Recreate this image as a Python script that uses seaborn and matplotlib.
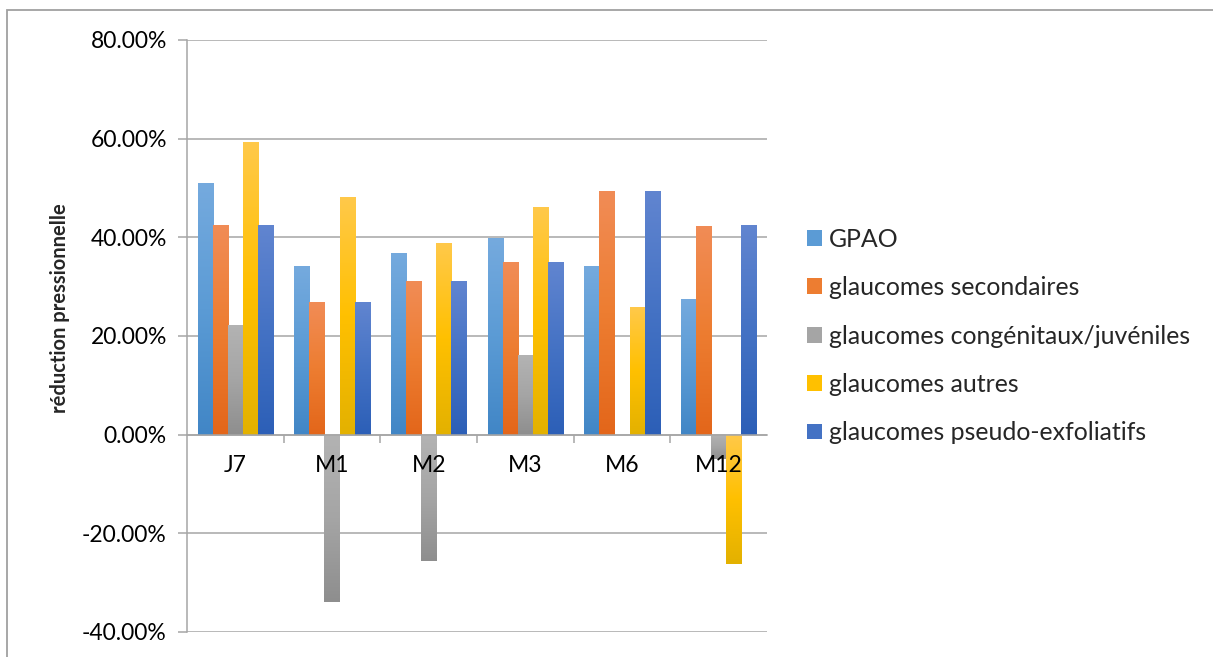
import numpy as np
import pandas as pd
import matplotlib
matplotlib.use("Agg")
import matplotlib.pyplot as plt
from matplotlib.colors import LinearSegmentedColormap
from matplotlib.patches import Patch, Rectangle
from matplotlib.ticker import FixedLocator, FuncFormatter
import seaborn as sns

# Periods of follow-up and the glaucoma types compared
periodes = ["J7", "M1", "M2", "M3", "M6", "M12"]
types = [
    "GPAO",
    "glaucomes secondaires",
    "glaucomes congénitaux/juvéniles",
    "glaucomes autres",
    "glaucomes pseudo-exfoliatifs",
]

# Mean pressure reduction (fraction) per period, one list per type
gpao = [0.510, 0.342, 0.369, 0.398, 0.342, 0.276]
secondaires = [0.425, 0.268, 0.312, 0.350, 0.494, 0.423]
congenitaux = [0.223, -0.339, -0.256, 0.162, 0.0, -0.050]
autres = [0.593, 0.482, 0.389, 0.462, 0.259, -0.262]
pseudo_exfoliatifs = [0.425, 0.268, 0.312, 0.350, 0.494, 0.425]

series = [gpao, secondaires, congenitaux, autres, pseudo_exfoliatifs]

# Base colours with a lighter top and darker bottom for the bar shading
base_colors = ["#5B9BD5", "#ED7D31", "#A5A5A5", "#FFC000", "#4472C4"]
top_colors = ["#75AADE", "#F18C56", "#B3B3B3", "#FFC94A", "#6185D0"]
bottom_colors = ["#4186C6", "#E3661A", "#8E8E8E", "#E3B100", "#2C5FB7"]

rows = []
for t, vals in zip(types, series):
    for p, v in zip(periodes, vals):
        rows.append({"période": p, "type": t, "réduction": v})
df = pd.DataFrame(rows)

sns.set_style("white")
plt.rcParams["font.family"] = ["Lato", "DejaVu Sans"]

W, H = 1213, 657
fig = plt.figure(figsize=(W / 100, H / 100), dpi=100)
ax = fig.add_axes([187 / W, 1 - 632 / H, 580 / W, 592 / H])

sns.barplot(
    data=df, x="période", y="réduction", hue="type",
    order=periodes, hue_order=types, palette=base_colors,
    width=0.78, saturation=1, linewidth=0, ax=ax,
)
if ax.get_legend() is not None:
    ax.get_legend().remove()

# Vertical gradient on every bar, clipped to the bar shape
grad = np.linspace(0, 1, 256).reshape(-1, 1)
for container, c_top, c_mid, c_bot in zip(ax.containers, top_colors, base_colors, bottom_colors):
    cmap = LinearSegmentedColormap.from_list("g", [c_bot, c_mid, c_top])
    for bar in container:
        x0, w = bar.get_x(), bar.get_width()
        y0, h = bar.get_y(), bar.get_height()
        if h == 0:
            continue
        ylo, yhi = min(y0, y0 + h), max(y0, y0 + h)
        im = ax.imshow(grad, cmap=cmap, origin="lower", aspect="auto",
                       extent=[x0, x0 + w, ylo, yhi], zorder=bar.get_zorder() + 0.1)
        im.set_clip_path(bar)

grid_col = "#A6A6A6"
ax.set_xlim(-0.5, len(periodes) - 0.5)
ax.set_ylim(-0.4, 0.8)
ax.set_yticks(np.arange(-0.4, 0.81, 0.2))
ax.yaxis.set_major_formatter(FuncFormatter(lambda v, _: f"{v * 100:.2f}%"))
ax.grid(axis="y", color=grid_col, linewidth=1.1)
ax.grid(axis="x", visible=False)
ax.set_axisbelow(True)
# category labels sit on top of the bars that cross them
ax.xaxis.set_zorder(5)

for s in ["top", "right"]:
    ax.spines[s].set_visible(False)
ax.spines["left"].set_color(grid_col)
ax.spines["left"].set_linewidth(1.1)
ax.spines["bottom"].set_position(("data", 0))
ax.spines["bottom"].set_color(grid_col)
ax.spines["bottom"].set_linewidth(1.1)

ax.tick_params(axis="y", direction="out", length=6.5, width=1.1, color=grid_col,
               pad=8, labelsize=16.5, labelcolor="black", left=True)
ax.tick_params(axis="x", which="major", length=0, pad=15, labelsize=16.5, labelcolor="black")
ax.xaxis.set_minor_locator(FixedLocator(np.arange(0.5, len(periodes) - 0.5, 1.0)))
ax.tick_params(axis="x", which="minor", direction="out", length=5.8, width=1.1,
               color=grid_col, bottom=True)
ax.set_xlabel("")
ax.set_ylabel("")

fig.text(60 / W, 1 - 308 / H, "réduction pressionnelle", rotation=90,
         ha="center", va="center", fontsize=14.5, fontweight="bold")

handles = [Patch(facecolor=c, edgecolor="none") for c in base_colors]
fig.legend(handles, types, loc="center left",
           bbox_to_anchor=(807 / W, 1 - 336 / H), frameon=False,
           fontsize=17.9, handlelength=0.6, handleheight=0.6,
           handletextpad=0.28, labelspacing=1.02, borderpad=0, borderaxespad=0)

fig.add_artist(Rectangle((7 / W, -0.05), 1.2, 1.05 - 9.5 / H,
                         transform=fig.transFigure, fill=False,
                         edgecolor="#A0A0A0", linewidth=1.3))

fig.savefig("out.png", dpi=100)
